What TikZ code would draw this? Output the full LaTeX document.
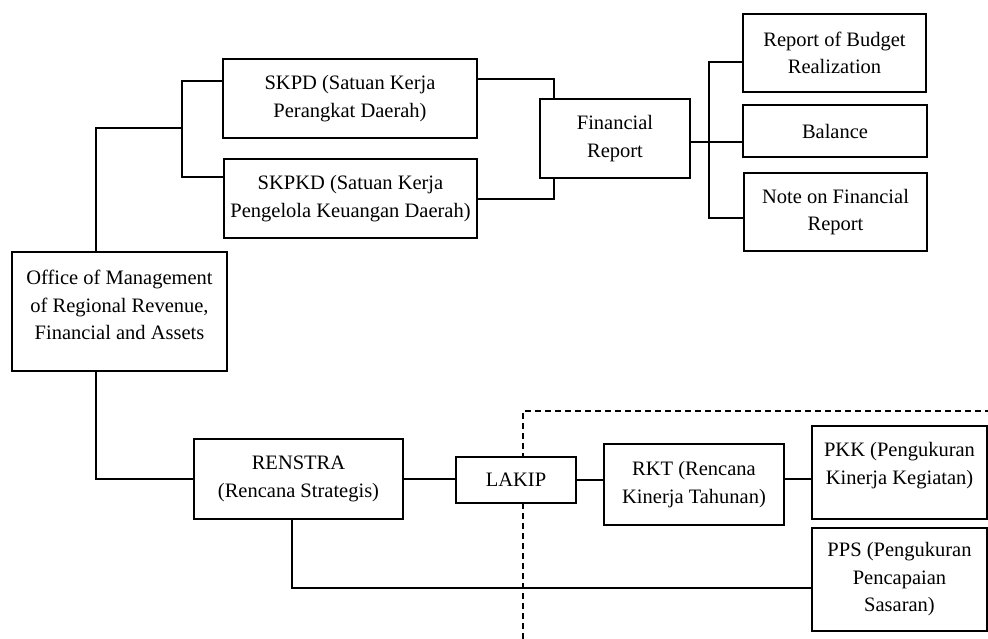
\documentclass[tikz,border=0pt]{standalone}
\usepackage{fontspec}
\setmainfont{Liberation Serif}
\begin{document}
\begin{tikzpicture}[x=1pt,y=-1pt,
  box/.style={draw,line width=1.6pt,fill=white,inner sep=0pt,align=center,
    font=\fontsize{20.5}{27.5}\selectfont},
  txt/.style={inner sep=0pt,align=center,font=\fontsize{20.5}{27.5}\selectfont},
  conn/.style={line width=2.2pt},
  bound/.style={line width=1.8pt,dash pattern=on 6pt off 4pt}]
\useasboundingbox (0,0) rectangle (988,639);
% dashed boundary
\coordinate (d1) at (523,639);
\coordinate (d2) at (523,411);
\coordinate (d3) at (988,411);
\draw[bound] (d1) -- (d2) -- (d3);
% boxes
\node[box,minimum width=215pt,minimum height=119pt] (office) at (119.5,311.5) {};
\node[txt] (officeT) at (119.5,305) {Office of Management\\of Regional Revenue,\\Financial and Assets};
\node[box,minimum width=254pt,minimum height=79pt] (skpd) at (350,98.5) {SKPD (Satuan Kerja\\Perangkat Daerah)};
\node[box,minimum width=253pt,minimum height=79pt] (skpkd) at (350.5,198.5) {SKPKD (Satuan Kerja\\Pengelola Keuangan Daerah)};
\node[box,minimum width=150pt,minimum height=79pt] (fin) at (615,138.5) {Financial\\Report};
\node[box,minimum width=183pt,minimum height=78pt] (rbr) at (834.5,53) {Report of Budget\\Realization};
\node[box,minimum width=184pt,minimum height=52pt] (bal) at (835,131) {Balance};
\node[box,minimum width=183pt,minimum height=78pt] (note) at (835.5,212) {Note on Financial\\Report};
\node[box,minimum width=209pt,minimum height=80pt] (renstra) at (298.5,479) {RENSTRA\\(Rencana Strategis)};
\node[box,minimum width=120pt,minimum height=46pt] (lakip) at (516,480) {LAKIP};
\node[box,minimum width=180pt,minimum height=81pt] (rkt) at (694,484.5) {RKT (Rencana\\Kinerja Tahunan)};
\node[box,minimum width=175pt,minimum height=93pt] (pkk) at (899.5,472.5) {};
\node[txt] (pkkT) at (899.5,465.5) {PKK (Pengukuran\\Kinerja Kegiatan)};
\node[box,minimum width=175pt,minimum height=103pt] (pps) at (899.5,579.5) {PPS (Pengukuran\\Pencapaian\\Sasaran)};
% joints
\coordinate (c1) at (96,128);
\coordinate (c2) at (182,128);
\coordinate (c3) at (182,81);
\coordinate (c4) at (182,177);
\coordinate (c5) at (554,79);
\coordinate (c6) at (554,199);
\coordinate (c7) at (709,142);
\coordinate (c8) at (709,62);
\coordinate (c9) at (709,218);
\coordinate (c10) at (96,479);
\coordinate (c11) at (798,479);
\coordinate (c12) at (292,588);
% connectors
\draw[conn] (office.north -| c1) -- (c1) -- (c2);
\draw[conn] (skpd.west |- c3) -- (c3) -- (c4) -- (skpkd.west |- c4);
\draw[conn] (skpd.east |- c5) -- (c5) -- (fin.north -| c5);
\draw[conn] (skpkd.east |- c6) -- (c6) -- (fin.south -| c6);
\draw[conn] (fin.east |- c7) -- (bal.west |- c7);
\draw[conn] (rbr.west |- c8) -- (c8) -- (c9) -- (note.west |- c9);
\draw[conn] (office.south -| c10) -- (c10) -- (renstra.west |- c10);
\draw[conn] (renstra.east) -- (renstra.east -| lakip.west);
\draw[conn] (lakip.east) -- (lakip.east -| rkt.west);
\draw[conn] (rkt.east |- c11) -- (pkk.west |- c11);
\draw[conn] (renstra.south -| c12) -- (c12) -- (pps.west |- c12);
\end{tikzpicture}
\end{document}
